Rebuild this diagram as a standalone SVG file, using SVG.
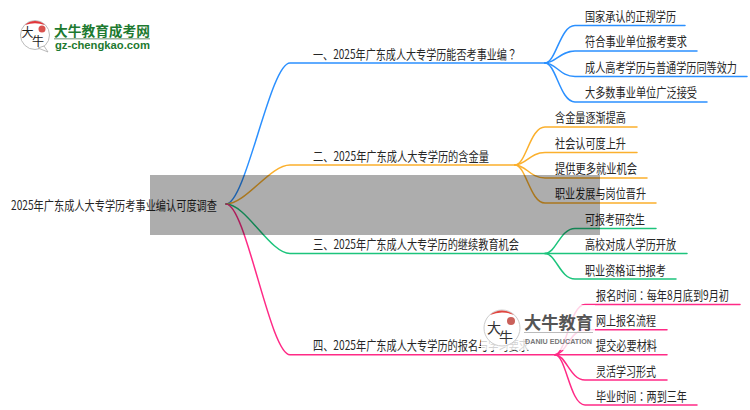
<svg xmlns="http://www.w3.org/2000/svg" width="750" height="410" viewBox="0 0 750 410">
<style>
text{font-family:"Noto Sans CJK SC","Liberation Sans",sans-serif;font-size:10.1px;fill:#262626}
tspan{font-family:"Noto Sans CJK TC",sans-serif}
.c path{fill:none;stroke-width:1.5;stroke-linecap:round}
.b path{stroke:#2b90ff}.o path{stroke:#fbb02d}.g path{stroke:#1cc47c}.p path{stroke:#ff2a86}
</style>
<rect width="750" height="410" fill="#fff"/>
<g id="connectors" class="c">
<g class="b"><path d="M226 204C246 204 270 63 290 63H545"/><path d="M545 63C556 63 560 25.500 575 25.500H685"/><path d="M545 63C556 63 560 51 575 51H697"/><path d="M545 63C556 63 560 76.500 575 76.500H747"/><path d="M545 63C556 63 560 102 575 102H707"/></g>
<g class="o"><path d="M226 204C246 204 270 165 290 165H515"/><path d="M515 165C526 165 530 127 545 127H637"/><path d="M515 165C526 165 530 152.500 545 152.500H637"/><path d="M515 165C526 165 530 178 545 178H647"/><path d="M515 165C526 165 530 203 545 203H656"/></g>
<g class="g"><path d="M226 204C246 204 270 253.500 290 253.500H545"/><path d="M545 253.500C556 253.500 560 228.500 575 228.500H656"/><path d="M545 253.500H687"/><path d="M545 253.500C556 253.500 560 279 575 279H676"/></g>
<g class="p"><path d="M226 204C246 204 270 354.700 290 354.700H555"/><path d="M555 354.700C566 354.700 570 304.500 585 304.500H740"/><path d="M555 354.700C566 354.700 570 329.700 585 329.700H667"/><path d="M555 354.700H667"/><path d="M555 354.700C566 354.700 570 380 585 380H667"/><path d="M555 354.700C566 354.700 570 405 585 405H697"/></g>
</g>
<g id="root"><text transform="translate(11 210) scale(1 1.25)" textLength="206" lengthAdjust="spacingAndGlyphs">2025年广东成人大专学历考事业编认可度调查</text></g>
<g id="n1"><text transform="translate(313 59) scale(1 1.25)" textLength="204" lengthAdjust="spacingAndGlyphs">一、2025年广东成人大专学历能否考事业编<tspan>？</tspan></text></g>
<g id="n11"><text transform="translate(585 20.500) scale(1 1.25)" textLength="91" lengthAdjust="spacingAndGlyphs">国家承认的正规学历</text></g>
<g id="n12"><text transform="translate(585 46) scale(1 1.25)" textLength="102" lengthAdjust="spacingAndGlyphs">符合事业单位报考要求</text></g>
<g id="n13"><text transform="translate(585 71.500) scale(1 1.25)" textLength="152" lengthAdjust="spacingAndGlyphs">成人高考学历与普通学历同等效力</text></g>
<g id="n14"><text transform="translate(585 97) scale(1 1.25)" textLength="112" lengthAdjust="spacingAndGlyphs">大多数事业单位广泛接受</text></g>
<g id="n2"><text transform="translate(313 160.500) scale(1 1.25)" textLength="176" lengthAdjust="spacingAndGlyphs">二、2025年广东成人大专学历的含金量</text></g>
<g id="n21"><text transform="translate(555 122) scale(1 1.25)" textLength="71" lengthAdjust="spacingAndGlyphs">含金量逐渐提高</text></g>
<g id="n22"><text transform="translate(555 147.500) scale(1 1.25)" textLength="71" lengthAdjust="spacingAndGlyphs">社会认可度上升</text></g>
<g id="n23"><text transform="translate(555 173) scale(1 1.25)" textLength="82" lengthAdjust="spacingAndGlyphs">提供更多就业机会</text></g>
<g id="n24"><text transform="translate(555 198) scale(1 1.25)" textLength="91" lengthAdjust="spacingAndGlyphs">职业发展与岗位晋升</text></g>
<g id="n3"><text transform="translate(313 249) scale(1 1.25)" textLength="206" lengthAdjust="spacingAndGlyphs">三、2025年广东成人大专学历的继续教育机会</text></g>
<g id="n31"><text transform="translate(585 224) scale(1 1.25)" textLength="60" lengthAdjust="spacingAndGlyphs">可报考研究生</text></g>
<g id="n32"><text transform="translate(585 249) scale(1 1.25)" textLength="91" lengthAdjust="spacingAndGlyphs">高校对成人学历开放</text></g>
<g id="n33"><text transform="translate(585 274.500) scale(1 1.25)" textLength="81" lengthAdjust="spacingAndGlyphs">职业资格证书报考</text></g>
<g id="n4"><text transform="translate(313 350) scale(1 1.25)" textLength="216" lengthAdjust="spacingAndGlyphs">四、2025年广东成人大专学历的报名与学习要求</text></g>
<g id="n41"><text transform="translate(596 299.500) scale(1 1.25)" textLength="133" lengthAdjust="spacingAndGlyphs">报名时间<tspan>：</tspan>每年8月底到9月初</text></g>
<g id="n42"><text transform="translate(596 325) scale(1 1.25)" textLength="60" lengthAdjust="spacingAndGlyphs">网上报名流程</text></g>
<g id="n43"><text transform="translate(596 350) scale(1 1.25)" textLength="61" lengthAdjust="spacingAndGlyphs">提交必要材料</text></g>
<g id="n44"><text transform="translate(596 375.500) scale(1 1.25)" textLength="60" lengthAdjust="spacingAndGlyphs">灵活学习形式</text></g>
<g id="n45"><text transform="translate(596 400.500) scale(1 1.25)" textLength="91" lengthAdjust="spacingAndGlyphs">毕业时间<tspan>：</tspan>两到三年</text></g>
<rect x="150" y="175" width="450" height="60" fill="#000" fill-opacity=".32"/>
<g id="logo-top">
<circle cx="35" cy="35" r="14.500" fill="#fff" stroke="#bbb" stroke-width="1"/>
<path d="M25 25A14.500 14.500 0 0 1 45 25Q35 21.500 25 25Z" fill="#e0353a"/>
<circle cx="42" cy="29" r="3.500" fill="#d9534f"/>
<path d="M38 48L48 52L44 46Z" fill="#fff" stroke="#aaa" stroke-width=".8"/>
<text x="21.500" y="37" style="font-size:12px;fill:#222">大</text>
<text x="32" y="46" style="font-size:12px;fill:#222">牛</text>
<text x="54" y="35.500" textLength="96" lengthAdjust="spacingAndGlyphs" style="font-size:13.700px;font-weight:700;fill:#1d7a30">大牛教育成考网</text>
<rect x="54" y="38" width="96" height="1.500" fill="#9db5a0"/>
<text x="55" y="49" textLength="95" lengthAdjust="spacingAndGlyphs" style="font-size:10px;font-weight:700;fill:#1d7a30;font-family:'Liberation Sans',sans-serif">gz-chengkao.com</text>
</g>
<g id="logo-bottom">
<rect x="481" y="305" width="114" height="45" fill="#fff" fill-opacity=".8"/>
<circle cx="502" cy="328" r="18" fill="#fff" stroke="#ccc" stroke-width="1"/>
<path d="M490 315A18 18 0 0 1 514 315Q502 310 490 315Z" fill="#e0453f"/>
<circle cx="511" cy="321" r="4" fill="#c9605a"/>
<text x="487" y="333" style="font-size:14px;fill:#333">大</text>
<text x="499" y="342" style="font-size:14px;fill:#333">牛</text>
<text x="524" y="329" textLength="69" lengthAdjust="spacingAndGlyphs" style="font-size:17px;font-weight:700;fill:#555">大牛教育</text>
<rect x="524" y="332" width="69" height="1" fill="#bbb"/>
<text x="525" y="344" textLength="67" lengthAdjust="spacingAndGlyphs" style="font-size:7px;font-weight:700;fill:#777;font-family:'Liberation Sans',sans-serif">DANIU EDUCATION</text>
</g>
</svg>
